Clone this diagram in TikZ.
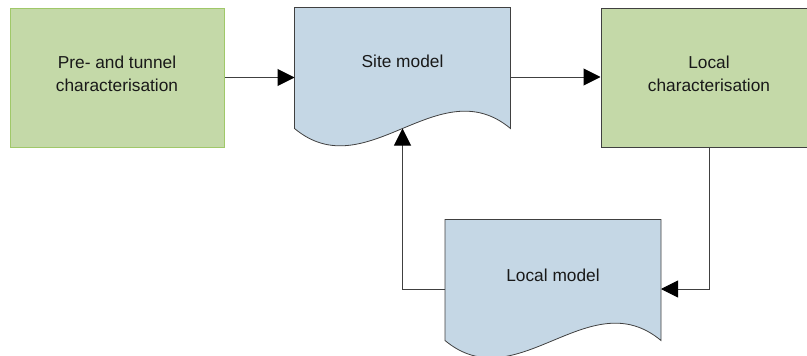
\documentclass[tikz,border=0pt]{standalone}
\usepackage{fontspec}
\setmainfont{Liberation Sans}
\usetikzlibrary{calc,arrows.meta}
\definecolor{boxgreen}{RGB}{196,217,168}
\definecolor{paleedge}{RGB}{160,200,105}
\definecolor{docblue}{RGB}{197,215,229}
\definecolor{edgegray}{RGB}{64,64,64}
\begin{document}
\begin{tikzpicture}[x=1pt,y=-1pt,line width=1pt,>={Triangle[length=17pt,width=17pt,color=black]},
	every node/.style={font=\fontsize{17.3}{23}\selectfont,align=center,text=black!90},
	task/.style={rectangle,fill=boxgreen,draw=edgegray,minimum width=216pt,minimum height=139pt,inner sep=0pt,text depth=7pt},
	doc/.style={rectangle,minimum width=215pt,minimum height=138pt,inner sep=0pt},
	docfill/.style={fill=docblue,draw=edgegray,line width=0.8pt},
	link/.style={->,draw=black!75}]
			\useasboundingbox (0,0) rectangle (807,356);
			\node[task,draw=paleedge,minimum width=214pt] (pre) at (117,77.5){Pre- and tunnel\\characterisation};
			\node[doc] (site) at (402.5,77){};
			\node[doc] (lmod) at (553,289){};
			\node[task] (loc) at (709,77.5){Local\\characterisation};
			\foreach \d in {site,lmod}
				\draw[docfill] (\d.north west) -- (\d.north east) -- ($(\d.south east)+(0,-18)$)
					.. controls ($(\d.south east)+(-72,-78)$) and ($(\d.south west)+(72,42)$) .. ($(\d.south west)+(0,-18)$) -- cycle;
			\node (sitelbl) at ($(site.north)+(0,54)$){Site model};
			\node (lmodlbl) at ($(lmod.north)+(0,56)$){Local model};
			\coordinate (sitewave) at ($(site.south)+(0,-18)$);
			\draw[link] (pre.east) -- (pre.east -| site.west);
			\draw[link] (site.east) -- (site.east -| loc.west);
			\draw[link] (loc.south) |- (lmod.east);
			\draw[link] (lmod.west) -| (sitewave);
		\end{tikzpicture}
\end{document}
